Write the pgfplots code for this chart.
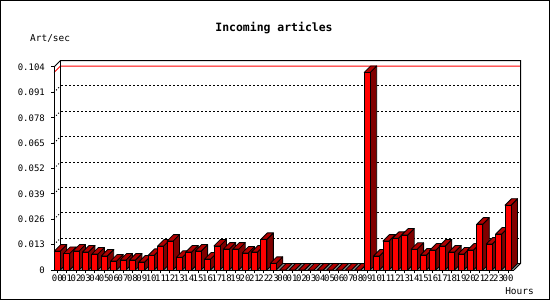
\documentclass[border=0pt]{standalone}
\usepackage{fontspec}
\setmainfont{DejaVu Sans Mono}
\usepackage{pgfplots}
\usepackage{pgfplotstable}
\pgfplotsset{compat=1.18}
\definecolor{barfront}{RGB}{255,0,0}
\definecolor{bartop}{RGB}{176,0,0}
\definecolor{barside}{RGB}{128,0,0}
\definecolor{floorgray}{RGB}{140,140,140}

\pgfplotstableread{
idx val
0 0.0097
1 0.0085
2 0.0097
3 0.0092
4 0.0082
5 0.0072
6 0.0046
7 0.0051
8 0.0051
9 0.0041
10 0.0075
11 0.0123
12 0.0148
13 0.0065
14 0.0092
15 0.0097
16 0.0056
17 0.0123
18 0.0107
19 0.0107
20 0.0087
21 0.0092
22 0.0157
23 0.0034
24 0
25 0
26 0
27 0
28 0
29 0
30 0
31 0
32 0
33 0.1012
34 0.0072
35 0.0148
36 0.0162
37 0.0179
38 0.0106
39 0.0077
40 0.0102
41 0.0123
42 0.0092
43 0.0082
44 0.0102
45 0.0235
46 0.0133
47 0.0184
48 0.0332
}\artdata

\pgfplotsset{
  bar3d/.style={
    only marks, scatter, mark=*, mark size=0pt,
    mark options={draw=none, fill=none},
    visualization depends on={\thisrow{val} \as \hval},
    scatter/@pre marker code/.code={%
      \pgfmathsetmacro\ya{-\hval*1951.9}%
      \pgfmathsetmacro\yb{6.5-\hval*1951.9}%
      \filldraw[fill=barside, draw=black, line width=0.8bp, line join=round]
        (3bp,0bp) -- (9.5bp,6.5bp) -- (9.5bp,\yb bp) -- (3bp,\ya bp) -- cycle;
      \filldraw[fill=bartop, draw=black, line width=0.8bp, line join=round]
        (-3bp,0bp) -- (3bp,0bp) -- (9.5bp,6.5bp) -- (3.5bp,6.5bp) -- cycle;
      \filldraw[fill=barfront, draw=black, line width=0.8bp]
        (-3bp,\ya bp) rectangle (3bp,0bp);
    },
    scatter/@post marker code/.code={},
  }
}

\begin{document}
\begin{tikzpicture}[x=1bp,y=1bp]
\useasboundingbox (0,0) rectangle (550,300);
\fill[white] (0,0) rectangle (550,300);
\draw[line width=1bp] (0.5,0.5) rectangle (549.5,299.5);
\node[font=\bfseries\fontsize{11.5}{12}\selectfont] at (274,272) {Incoming articles};
\node[font=\fontsize{9.5}{10}\selectfont, anchor=west, inner sep=0pt] at (30,261.5) {Art/sec};
\node[font=\fontsize{9.5}{10}\selectfont, inner sep=0pt] at (519.5,8.5) {Hours};
% floor
\fill[floorgray] (54,30) -- (514,30) -- (520.5,36.5) -- (60.5,36.5) -- cycle;
% grid on back wall and left wall
\foreach \v in {0.013,0.026,0.039,0.052,0.065,0.078,0.091}{
  \pgfmathsetmacro\yy{30+\v*1951.9}
  \draw[dash pattern=on 2bp off 2bp, line width=1bp] (61,\yy+6.5) -- (520.5,\yy+6.5);
  \draw[dash pattern=on 1bp off 2bp, line width=1bp] (54,\yy) -- (60.5,\yy+6.5);
}
% max line
\draw[red, line width=1bp] (54,227.5) -- (60.5,234) -- (520.5,234);
% box
\draw[line width=1bp] (54,233) -- (60.5,239.5) -- (520.5,239.5) -- (520.5,36.5) -- (514,30);
\draw[line width=1bp] (60.5,239.5) -- (60.5,36.5) -- (520.5,36.5);
\begin{axis}[
  at={(54bp,30bp)}, anchor=south west,
  scale only axis, width=460bp, height=203bp,
  xmin=-0.351, xmax=48.64, ymin=0, ymax=0.104,
  clip=false,
  axis x line*=bottom, axis y line*=left,
  axis line style={line width=1bp, -},
  xtick={0,...,48},
  xticklabels={00,01,02,03,04,05,06,07,08,09,10,11,12,13,14,15,16,17,18,19,20,21,22,23,00,01,02,03,04,05,06,07,08,09,10,11,12,13,14,15,16,17,18,19,20,21,22,23,00},
  ytick={0,0.013,0.026,0.039,0.052,0.065,0.078,0.091,0.104},
  yticklabels={0,0.013,0.026,0.039,0.052,0.065,0.078,0.091,0.104},
  tick align=outside,
  major tick length=3bp,
  tick style={line width=1bp, black},
  ticklabel style={font=\fontsize{9}{9}\selectfont, inner sep=0pt},
  yticklabel style={anchor=east, xshift=-6bp},
  xticklabel style={anchor=north, yshift=-2bp},
]
\addplot[bar3d] table[x=idx, y=val] {\artdata};
\end{axis}
\end{tikzpicture}
\end{document}
